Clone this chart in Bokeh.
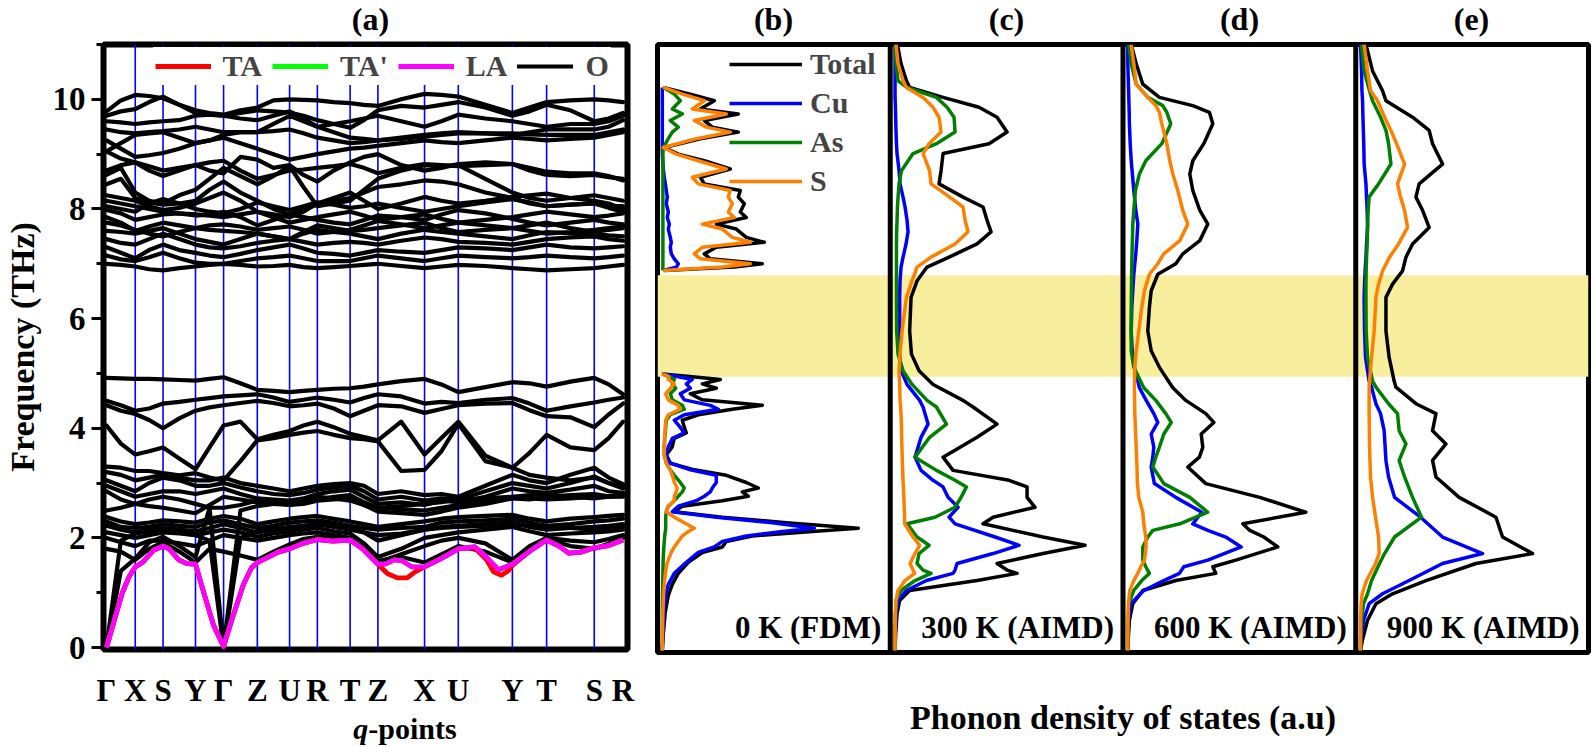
import math
from bokeh.plotting import figure
from bokeh.models import (Range1d, Span, Legend, LegendItem, BoxAnnotation,
                          FixedTicker, SingleIntervalTicker, LinearAxis)
from bokeh.layouts import row, column
from bokeh.embed import file_html
from bokeh.resources import INLINE
from bokeh.core.properties import value

FONT = "Liberation Serif"

# ---------------- panel (a): phonon dispersion ----------------
hs_labels = ["Γ", "X", "S", "Y", "Γ", "Z", "U", "R", "T", "Z", "X", "U", "Y", "T", "S", "R"]
hs_pos = [0.0, 0.29, 0.57, 0.897, 1.18, 1.52, 1.845, 2.125, 2.455, 2.735, 3.205, 3.545, 4.09, 4.435, 4.915, 5.205]

# optical bands sampled at every high-symmetry point and at the middle of each segment
L1 = [4.92,4.91,4.90,4.90,4.89,4.88,4.87,4.90,4.93,4.82,4.70,4.68,4.66,4.68,4.70,4.72,4.73,4.76,4.80,4.86,4.90,4.80,4.66,4.75,4.84,4.82,4.76,4.85,4.92,4.80,4.62]
L2 = [4.50,4.42,4.32,4.36,4.45,4.48,4.52,4.55,4.58,4.60,4.62,4.56,4.48,4.52,4.56,4.52,4.47,4.55,4.62,4.58,4.45,4.48,4.46,4.52,4.55,4.45,4.32,4.40,4.47,4.52,4.56]
L3 = [4.42,4.32,4.26,4.15,4.00,4.18,4.32,4.38,4.42,4.46,4.50,4.46,4.40,4.42,4.45,4.36,4.22,4.32,4.42,4.40,4.28,4.35,4.42,4.45,4.46,4.33,4.22,4.20,4.02,4.25,4.45]
L4 = [4.05,3.72,3.52,3.58,3.65,3.45,3.25,3.65,4.05,4.12,3.80,3.88,3.95,4.05,4.12,4.02,3.90,3.84,3.78,4.12,3.52,3.82,4.12,3.50,3.28,3.55,3.88,3.65,3.60,3.82,4.12]
L5 = [3.30,3.28,3.22,3.22,3.18,3.14,3.18,3.10,3.05,3.40,3.78,3.82,3.88,3.92,3.95,3.88,3.82,3.80,3.76,3.22,3.24,3.58,4.08,3.40,3.28,3.15,3.10,3.05,3.10,3.00,2.95]
L6 = [3.20,3.15,3.05,3.10,3.15,3.10,3.05,3.05,3.10,3.00,2.95,2.90,2.85,2.90,2.95,2.98,3.00,2.95,2.80,2.85,2.78,2.80,2.75,2.95,3.15,3.05,3.00,3.15,3.28,3.10,2.98]
L7 = [3.05,2.95,2.85,3.00,3.10,3.05,2.95,2.95,3.00,2.92,2.85,2.80,2.78,2.82,2.88,2.92,2.95,2.85,2.70,2.75,2.68,2.72,2.70,2.85,3.00,2.95,2.90,3.00,3.12,3.00,2.90]
L8 = [2.95,2.85,2.75,2.80,2.85,2.85,2.80,2.85,2.90,2.80,2.72,2.70,2.68,2.72,2.80,2.85,2.88,2.75,2.62,2.65,2.60,2.68,2.65,2.75,2.90,2.85,2.82,2.88,2.95,2.85,2.82]
L9 = [2.85,2.70,2.62,2.70,2.75,2.70,2.62,2.55,2.55,2.60,2.68,2.65,2.60,2.65,2.70,2.75,2.78,2.65,2.55,2.52,2.50,2.55,2.60,2.68,2.75,2.78,2.80,2.75,2.72,2.75,2.78]
L10 = [2.50,2.55,2.62,2.58,2.55,2.50,2.45,2.60,2.75,2.70,2.65,2.62,2.60,2.62,2.68,2.70,2.72,2.60,2.48,2.45,2.42,2.48,2.55,2.62,2.72,2.70,2.75,2.78,2.80,2.76,2.76]
L11 = [2.38,2.30,2.25,2.28,2.32,2.30,2.28,2.35,2.40,2.35,2.25,2.30,2.35,2.38,2.40,2.35,2.30,2.25,2.20,2.25,2.30,2.35,2.38,2.40,2.42,2.35,2.30,2.35,2.38,2.40,2.42]
L12 = [2.30,2.20,2.18,2.20,2.25,2.22,2.20,2.28,2.32,2.25,2.18,2.22,2.28,2.30,2.32,2.28,2.22,2.18,2.15,2.18,2.20,2.28,2.30,2.32,2.35,2.28,2.22,2.25,2.30,2.32,2.35]
L13 = [2.22,2.15,2.10,2.15,2.18,2.15,2.12,2.18,2.25,2.18,2.10,2.15,2.20,2.22,2.25,2.20,2.15,2.10,2.05,2.08,2.15,2.20,2.22,2.25,2.28,2.20,2.15,2.18,2.20,2.22,2.25]
L14 = [2.10,2.05,2.00,2.05,2.10,2.08,2.05,2.10,2.15,2.10,2.02,2.08,2.12,2.15,2.18,2.12,2.08,1.90,1.65,1.80,2.00,2.05,2.10,2.15,2.20,2.12,2.05,2.08,2.10,2.12,2.15]
L15 = [2.00,1.92,1.85,1.95,1.95,1.90,1.85,1.95,2.05,2.00,1.95,2.00,2.05,2.08,2.10,2.05,2.00,1.80,1.55,1.70,1.85,1.95,2.00,1.90,1.60,1.85,2.00,1.95,1.92,1.98,2.05]
L16 = [1.80,1.75,1.60,1.80,1.92,1.75,1.55,1.80,1.75,1.68,1.60,1.75,1.88,1.98,2.02,2.00,1.98,1.80,1.58,1.65,1.55,1.70,1.85,1.75,1.55,1.80,1.98,1.85,1.80,1.90,2.00]
A1 = [0.00,1.95,2.08,2.12,2.15,2.10,2.05,1.95,0.00,2.00,2.12,2.15,2.18,2.22,2.25,2.22,2.18,2.10,1.95,2.05,2.15,2.18,2.20,2.22,2.25,2.22,2.20,2.18,2.15,2.18,2.20]
A2 = [0.00,1.40,1.62,1.92,2.02,1.85,1.65,2.55,0.00,2.50,2.58,2.62,2.65,2.70,2.75,2.72,2.68,2.60,2.55,2.58,2.62,2.65,2.70,2.72,2.75,2.72,2.70,2.72,2.75,2.75,2.75]
U1 = [9.78,9.98,10.08,10.06,10.02,9.90,9.80,9.75,9.72,9.80,9.85,9.98,10.00,9.99,9.98,9.95,9.93,9.90,9.88,10.00,10.10,10.08,10.05,9.90,9.75,9.85,9.95,9.98,10.00,9.98,9.95]
U2 = [9.70,9.78,9.82,9.95,10.05,9.90,9.75,9.72,9.70,9.75,9.80,9.78,9.76,9.70,9.62,9.55,9.48,9.62,9.80,9.88,9.85,9.90,9.95,9.85,9.70,9.78,9.90,9.80,9.60,9.65,9.75]
U3 = [9.60,9.58,9.55,9.58,9.60,9.62,9.70,9.72,9.70,9.65,9.62,9.70,9.78,9.65,9.50,9.55,9.60,9.65,9.70,9.60,9.50,9.60,9.72,9.65,9.60,9.55,9.50,9.55,9.55,9.60,9.70]
U4 = [9.45,9.40,9.38,9.40,9.42,9.45,9.50,9.45,9.40,9.40,9.40,9.55,9.70,9.60,9.50,9.40,9.30,9.28,9.25,9.30,9.35,9.38,9.40,9.38,9.35,9.40,9.45,9.45,9.45,9.50,9.62]
U5 = [9.05,9.20,9.35,9.38,9.40,9.30,9.20,9.25,9.35,9.40,9.40,9.42,9.45,9.38,9.30,9.25,9.20,9.22,9.25,9.28,9.32,9.35,9.38,9.38,9.38,9.36,9.35,9.35,9.35,9.40,9.45]
U6 = [9.05,8.92,8.85,8.78,8.70,8.75,8.80,8.70,8.65,8.95,8.90,8.75,8.80,8.62,8.50,8.70,8.85,8.95,9.00,8.80,8.70,8.75,8.82,8.85,8.82,8.75,8.68,8.65,8.65,8.60,8.52]
U7 = [8.70,8.80,8.85,8.70,8.60,8.70,8.80,8.85,8.88,8.70,8.55,8.62,8.70,8.72,8.75,8.78,8.82,8.75,8.65,8.75,8.82,8.80,8.78,8.80,8.82,8.70,8.62,8.60,8.62,8.58,8.55]
U8 = [8.62,8.75,8.30,8.15,8.10,8.25,8.35,8.55,8.75,8.60,8.45,8.60,8.78,8.40,8.05,8.10,8.15,8.35,8.55,8.70,8.80,8.78,8.80,8.55,8.30,8.20,8.15,8.20,8.25,8.20,8.15]
U9 = [8.45,8.55,8.20,8.12,8.08,8.10,8.15,8.35,8.50,8.30,8.15,8.00,7.90,8.00,8.08,8.15,8.20,8.30,8.40,8.45,8.52,8.50,8.45,8.30,8.20,8.10,8.05,8.08,8.10,8.05,8.05]
U10 = [8.25,8.20,8.15,8.05,7.98,8.02,8.10,8.20,8.30,8.15,7.95,7.90,7.85,7.95,8.10,8.20,8.30,8.15,8.00,8.10,8.22,8.15,8.10,8.15,8.22,8.25,8.28,8.20,8.15,8.10,8.00]
U11 = [8.15,8.10,8.05,8.00,7.95,7.92,7.90,7.88,7.85,7.90,7.95,7.85,7.75,7.80,7.85,7.90,7.95,7.88,7.80,7.85,7.90,7.82,7.75,7.80,7.85,7.90,7.95,7.90,7.85,7.88,7.92]
U12 = [7.98,7.92,7.80,7.85,7.90,7.92,7.88,7.90,7.95,7.85,7.70,7.80,7.90,7.85,7.80,7.75,7.72,7.80,7.88,7.85,7.80,7.90,7.98,7.92,7.82,7.75,7.70,7.75,7.80,7.75,7.72]
U13 = [7.85,7.75,7.60,7.68,7.75,7.70,7.65,7.62,7.60,7.58,7.55,7.50,7.45,7.58,7.70,7.65,7.60,7.62,7.65,7.70,7.75,7.65,7.58,7.62,7.65,7.70,7.75,7.65,7.58,7.62,7.65]
U14 = [7.60,7.58,7.55,7.60,7.65,7.55,7.45,7.40,7.35,7.45,7.55,7.50,7.45,7.55,7.62,7.58,7.55,7.50,7.45,7.55,7.62,7.58,7.55,7.50,7.45,7.52,7.58,7.56,7.55,7.52,7.50]
U15 = [7.45,7.38,7.35,7.45,7.55,7.45,7.35,7.30,7.28,7.32,7.38,7.42,7.45,7.40,7.35,7.38,7.40,7.38,7.35,7.42,7.48,7.45,7.40,7.38,7.35,7.40,7.45,7.48,7.50,7.45,7.42]
U16 = [7.30,7.20,7.10,7.25,7.35,7.25,7.20,7.15,7.12,7.18,7.25,7.30,7.35,7.28,7.20,7.18,7.15,7.20,7.25,7.22,7.20,7.25,7.30,7.28,7.25,7.30,7.35,7.30,7.28,7.30,7.32]
U17 = [7.15,7.08,7.05,7.12,7.20,7.10,7.02,7.00,7.00,7.05,7.10,7.12,7.15,7.10,7.05,7.05,7.05,7.10,7.15,7.10,7.05,7.10,7.15,7.12,7.10,7.12,7.15,7.12,7.10,7.12,7.15]
U18 = [7.00,6.98,6.95,6.90,6.88,6.92,6.95,6.98,7.00,6.98,6.95,6.96,6.98,6.94,6.92,6.94,6.96,6.98,7.00,6.96,6.92,6.95,6.98,6.96,6.92,6.90,6.88,6.90,6.92,6.95,6.98]
U19 = [8.05,8.00,7.95,8.10,8.18,8.10,8.00,7.95,7.92,8.00,8.12,8.05,7.98,8.05,8.12,8.08,8.02,8.05,8.10,8.02,7.95,8.00,8.05,8.12,8.18,8.12,8.05,8.08,8.10,8.02,7.95]
U20 = [7.75,7.70,7.62,7.55,7.50,7.58,7.65,7.70,7.72,7.68,7.62,7.65,7.68,7.62,7.55,7.58,7.62,7.70,7.78,7.72,7.65,7.70,7.75,7.70,7.65,7.60,7.55,7.58,7.62,7.65,7.68]
U21 = [9.25,9.10,8.95,8.98,9.02,9.10,9.20,9.25,9.30,9.20,9.10,9.00,8.90,8.95,9.00,9.05,9.10,9.12,9.15,9.20,9.25,9.22,9.20,9.25,9.30,9.28,9.25,9.28,9.30,9.35,9.40]

optical_bands = [L1, L2, L3, L4, L5, L6, L7, L8, L9, L10, L11, L12, L13, L14, L15, L16, A1, A2,
                 U1, U2, U3, U4, U5, U6, U7, U8, U9, U10, U11, U12, U13, U14, U15, U16, U17, U18, U19, U20, U21]

# acoustic branches read at their own path positions
la_q = [0, 0.08, 0.16, 0.23, 0.29, 0.36, 0.48, 0.57, 0.63, 0.73, 0.81, 0.897, 0.98, 1.08, 1.18, 1.28, 1.38, 1.46, 1.52, 1.63,
        1.73, 1.845, 1.98, 2.125, 2.28, 2.455, 2.58, 2.735, 2.81, 2.90, 2.98, 3.08, 3.205, 3.38, 3.545, 3.71, 3.83, 3.95, 4.09, 4.26,
        4.435, 4.56, 4.66, 4.78, 4.915, 5.06, 5.205]
la_f = [0, 0.5, 1.0, 1.3, 1.47, 1.55, 1.78, 1.85, 1.8, 1.6, 1.53, 1.52, 1.0, 0.4, 0.02, 0.6, 1.15, 1.45, 1.55, 1.65,
        1.74, 1.8, 1.9, 1.97, 1.94, 1.96, 1.8, 1.52, 1.52, 1.6, 1.58, 1.47, 1.47, 1.63, 1.8, 1.84, 1.65, 1.42, 1.52, 1.75,
        1.96, 1.85, 1.72, 1.74, 1.82, 1.86, 1.96]
ta_q = [0, 0.08, 0.16, 0.23, 0.29, 0.36, 0.48, 0.57, 0.63, 0.73, 0.81, 0.897, 0.98, 1.08, 1.18, 1.28, 1.38, 1.46, 1.52, 1.63,
        1.73, 1.845, 1.98, 2.125, 2.28, 2.455, 2.58, 2.735, 2.83, 2.93, 3.03, 3.11, 3.205, 3.38, 3.545, 3.71, 3.83, 3.90, 3.98, 4.05,
        4.09, 4.26, 4.435, 4.56, 4.66, 4.78, 4.915, 5.06, 5.205]
ta_f = [0, 0.5, 1.0, 1.3, 1.47, 1.55, 1.78, 1.85, 1.8, 1.6, 1.53, 1.52, 1.0, 0.4, 0.02, 0.6, 1.15, 1.45, 1.55, 1.65,
        1.74, 1.8, 1.9, 1.97, 1.94, 1.96, 1.8, 1.52, 1.35, 1.27, 1.27, 1.38, 1.47, 1.63, 1.8, 1.82, 1.6, 1.38, 1.32, 1.4,
        1.5, 1.75, 1.96, 1.85, 1.72, 1.74, 1.82, 1.86, 1.96]
ta2_q = la_q
ta2_f = la_f

# ---------------- panels (b)-(e): phonon DOS ----------------
b_up_f = [10.22, 10.10, 9.98, 9.83, 9.74, 9.62, 9.50, 9.41, 9.29, 9.13, 9.01, 8.89, 8.74, 8.59, 8.47, 8.35, 8.23, 8.11, 7.96, 7.86, 7.74, 7.65, 7.50, 7.41, 7.32, 7.20, 7.11, 7.02, 6.96, 6.90]
b_up_tot = [0.5, 14, 26, 19, 38, 21, 25, 38, 19, 1, 8, 21, 34, 19, 21, 39, 38, 41, 39, 42, 27, 37, 42, 51, 27, 21, 24, 50, 36, 1]
b_up_cu = [0, 0, 0, 0, 0, 0, 0, 0, 0, 0, 0, 0.2, 0.5, 1, 1.5, 2, 2.5, 2, 3, 2.5, 3.5, 3, 4, 4.5, 4, 4.5, 6, 8, 7, 0.5]
b_up_as = [0.5, 6, 9, 5, 10, 4, 8, 5, 3, 0.5, 0.3, 0.3, 0.3, 0.3, 0.3, 0.3, 0.3, 0.3, 0.3, 0.3, 0.3, 0.3, 0.3, 0.3, 0.3, 0.3, 0.3, 0.3, 0.3, 0.2]
b_up_s = [0.5, 10, 21, 15, 32, 16, 22, 34, 17, 0.5, 7, 18, 32, 15, 18, 34, 33, 35, 33, 36, 20, 30, 35, 44, 20, 16, 19, 44, 30, 0.5]

b_lo_f = [5.02, 4.97, 4.92, 4.84, 4.76, 4.66, 4.55, 4.45, 4.38, 4.28, 4.18, 4.05, 3.95, 3.85, 3.70, 3.55, 3.40, 3.28, 3.18, 3.05, 2.95, 2.88, 2.80, 2.72, 2.62, 2.52, 2.42, 2.32, 2.22, 2.16, 2.08, 1.98, 1.88, 1.78, 1.60, 1.40, 1.20, 1.00, 0.70, 0.30, 0.00]
b_lo_tot = [0, 15, 29, 20, 27, 14, 20, 50, 35, 18, 10, 11, 12, 6, 5, 2, 4, 16, 32, 42, 48, 40, 43, 30, 10, 6, 30, 62, 98, 75, 45, 32, 30, 20, 13, 8, 5, 3, 1.5, 0.5, 0]
b_lo_cu = [0, 8, 15, 12, 14, 9, 11, 24, 28, 11, 6, 9, 11, 5, 3, 2, 4, 14, 27, 27, 25, 24, 21, 17, 8, 5, 27, 55, 76, 60, 42, 30, 26, 18, 12, 6, 3, 1.7, 0.8, 0.3, 0]
b_lo_as = [0, 3, 6, 5, 6.7, 4, 5, 10, 11, 4, 2, 1.7, 1.5, 1.2, 1, 1, 2, 4, 6, 9, 11, 10, 8, 6, 3, 2, 1.7, 1.7, 1.7, 1.5, 1.2, 1, 0.8, 0.6, 0.4, 0.3, 0.2, 0.1, 0, 0, 0]
b_lo_s = [0, 3.3, 3, 6, 4, 1.7, 3, 8, 9, 3, 1.7, 1.5, 1.3, 1.2, 1, 1, 2, 4, 5, 6, 7.5, 7, 6, 6, 3, 2, 6, 11, 16, 13, 10, 8, 6, 4.5, 2.5, 1.5, 1, 0.6, 0.3, 0.1, 0]

c_f = [11.0, 10.65, 10.34, 10.22, 10.04, 9.86, 9.68, 9.41, 9.20, 9.02, 8.71, 8.47, 8.23, 8.05, 7.81, 7.60, 7.38, 7.14, 6.96, 6.71, 6.41, 5.80, 5.38, 5.08, 4.83, 4.54, 4.42, 4.11, 3.87, 3.51, 3.27, 3.09, 2.97, 2.78, 2.60, 2.42, 2.30, 2.06, 1.91, 1.76, 1.58, 1.46, 1.40, 1.27, 1.09, 0.91, 0.67, 0.30, 0.0]
c_tot = [1.2, 3, 5.7, 7.3, 24, 42, 51, 56, 47, 24, 23, 22, 34, 44, 46, 48, 41, 27, 16, 11, 8, 7.3, 8.2, 12, 19, 34, 39, 51, 41, 24, 29, 57, 66, 66, 70, 49, 44, 74, 95, 74, 51, 56, 61, 41, 7.3, 2.3, 1, 0.3, 0]
c_cu = [0, 0, 0, 0, 0, 0.2, 0.3, 0.5, 0.7, 1, 2, 2.5, 4, 5, 6, 6.5, 5.5, 4, 3, 2.5, 2.3, 2.3, 2.3, 3, 6, 12.3, 14, 16.5, 13, 10, 13, 19, 24, 26.5, 31.5, 27, 30, 50, 62, 49, 31, 30, 29, 15.7, 5.7, 1.5, 0.5, 0.1, 0]
c_as = [0, 0.5, 1.5, 6, 20.7, 26, 29.5, 30, 20.7, 9, 3.2, 2, 1.5, 1.2, 1, 0.8, 0.7, 0.7, 0.7, 0.7, 0.7, 0.8, 1.5, 4, 8.5, 16, 20.7, 25.7, 17.3, 10, 20.7, 30, 35.7, 33, 30, 20, 6, 11, 17, 12, 11, 14, 18, 10, 3, 0.5, 0.2, 0, 0]
c_s = [0.5, 1.5, 4, 5.7, 14, 19, 22, 23, 17, 14, 17.3, 18, 27.3, 34, 35, 36.5, 30, 18, 11, 8.5, 5.7, 3.5, 2.5, 2, 2.3, 2.5, 2.8, 3.2, 3.3, 3.6, 3.8, 4, 4.2, 4.4, 4.6, 4.8, 4.8, 9, 12.3, 10, 7.5, 9, 9.8, 5, 1.5, 0.5, 0.2, 0, 0]

d_f = [11.0, 10.65, 10.28, 10.04, 9.89, 9.77, 9.56, 9.20, 8.89, 8.65, 8.35, 7.99, 7.74, 7.44, 7.20, 7.02, 6.83, 6.53, 6.23, 5.80, 5.44, 5.14, 4.77, 4.54, 4.30, 4.14, 3.93, 3.69, 3.51, 3.33, 3.03, 2.78, 2.51, 2.30, 2.18, 2.06, 1.88, 1.64, 1.52, 1.40, 1.27, 1.09, 0.85, 0.55, 0.20, 0.0]
d_tot = [1.7, 4.2, 7.5, 15.8, 32.5, 40.8, 42.5, 38, 32.5, 31, 32.5, 36, 40, 36, 27.5, 24, 15, 11.7, 10.8, 10, 11.7, 15.8, 22.5, 29, 39, 43, 36.7, 37.5, 35.8, 30, 39, 66, 89, 57.5, 61, 68, 75, 54, 42.5, 44, 24, 7.5, 2.5, 0.8, 0.2, 0]
d_cu = [0, 0, 0.3, 0.5, 0.6, 0.7, 0.8, 1.2, 1.7, 2.3, 3, 4, 5, 4.5, 4, 3.5, 3, 2.5, 2, 1.7, 2.2, 3.3, 5.8, 9.2, 13, 15, 11.7, 13, 12.5, 11.7, 13.3, 24, 37, 32.5, 40, 49, 56.7, 40, 28, 25.8, 18, 8, 1.5, 0.5, 0.1, 0]
d_as = [0.5, 1.7, 4.2, 10, 17.5, 19.5, 21.5, 17, 9, 5.8, 3.8, 3, 2.5, 2.3, 2.1, 2, 1.9, 1.8, 1.7, 1.7, 1.7, 3, 8, 14, 19, 21.7, 18, 15.8, 14, 12.5, 18, 31, 40, 26, 12.5, 10, 7.5, 7.5, 9, 10.8, 7, 3, 0.5, 0.2, 0, 0]
d_s = [1.7, 3, 4.2, 10, 14, 15.8, 17, 19.5, 21, 22.5, 25, 27.5, 30, 26, 18, 15, 10.8, 8.3, 7, 5.5, 4.2, 3.5, 3.3, 3.4, 3.5, 3.7, 3.9, 4.2, 4.4, 4.6, 4.8, 5.5, 7.5, 8, 8.5, 9, 9.2, 8.3, 6.5, 5, 3, 1, 0.3, 0.1, 0, 0]

e_f = [11.0, 10.52, 10.16, 9.98, 9.68, 9.44, 9.20, 8.83, 8.47, 8.23, 7.99, 7.68, 7.38, 7.14, 6.89, 6.65, 6.41, 5.80, 5.32, 4.89, 4.78, 4.48, 4.30, 3.99, 3.75, 3.45, 3.15, 2.78, 2.42, 2.06, 1.76, 1.58, 1.27, 1.03, 0.85, 0.55, 0.20, 0.0]
e_tot = [2.7, 6, 11, 12.7, 26, 34.3, 36, 41, 29.3, 27.7, 31, 34.3, 26, 22.7, 21, 16, 12.7, 12.7, 14.3, 16.8, 17.7, 27.7, 37.7, 36, 42.7, 36, 37.7, 49.3, 67.7, 71, 86, 57.7, 32.7, 16, 7.7, 3.5, 1, 0]
e_cu = [0, 0.5, 0.7, 1, 1.2, 1.4, 1.6, 1.8, 2.7, 3, 3.3, 3.5, 3, 2.7, 2.3, 2, 1.8, 2, 2.5, 4.3, 5.5, 7.7, 10, 11.8, 12.2, 12.7, 14, 17, 30, 41, 61, 41, 24.3, 11, 4.3, 1.5, 0.3, 0]
e_as = [0.5, 1.8, 4.5, 6, 10, 12.7, 14, 15.2, 9, 4.3, 3.8, 3.5, 3.3, 3, 2.8, 2.7, 2.7, 2.8, 3.5, 6, 7.7, 14, 18.5, 19.3, 22.7, 19.3, 22, 26, 30.5, 17, 12, 9.5, 5.5, 3.5, 1.5, 0.5, 0, 0]
e_s = [1.8, 3.5, 5, 8.5, 12, 15.2, 18, 22, 18.5, 20, 22, 23.5, 19, 14.5, 11, 9, 7.7, 6.8, 5.5, 4.5, 4.3, 4.3, 4.3, 4.4, 4.5, 4.7, 5, 6, 7.5, 9, 9.3, 7.5, 3, 0.8, 0.3, 0, 0, 0]

panel_titles = ["(a)", "(b)", "(c)", "(d)", "(e)"]
panel_tags = ["0 K (FDM)", "300 K (AIMD)", "600 K (AIMD)", "900 K (AIMD)"]
element_names = ["Total", "Cu", "As", "S"]
element_colors = ["black", "#0000ff", "#008000", "#ff8000"]
gap_band = (4.97, 6.81)


def txt(size="30px", style="bold"):
    return dict(text_font=value(FONT), text_font_size=size, text_font_style=style,
                text_color="black", text_baseline="middle")


def strip(width, height):
    s = figure(width=width, height=height, output_backend="svg", toolbar_location=None, title=None,
               x_range=Range1d(0, width), y_range=Range1d(0, height),
               x_axis_type=None, y_axis_type=None, min_border=0)
    s.outline_line_color = None
    s.background_fill_color = "white"
    s.border_fill_color = "white"
    return s


# ---------------- panel titles strip ----------------
top = strip(1592, 41)
top.text(x=[370, 773, 1006, 1239, 1471], y=[23] * 5, text=panel_titles, text_align="center",
         **txt("32px"))

# ---------------- panel (a) ----------------
q_grid = []
for i in range(len(hs_pos) - 1):
    q_grid += [hs_pos[i], (hs_pos[i] + hs_pos[i + 1]) / 2]
q_grid.append(hs_pos[-1])
for b in optical_bands:
    assert len(b) == len(q_grid), len(b)

pa = figure(width=653, height=669, output_backend="svg", toolbar_location=None, title=None,
            x_range=Range1d(-0.03, 5.25), y_range=Range1d(-0.036, 11.0),
            min_border_left=99, min_border_right=26, min_border_top=3, min_border_bottom=58)
pa.grid.visible = False
pa.outline_line_color = "black"
pa.outline_line_width = 6
pa.background_fill_color = "white"
pa.border_fill_color = "white"

for xq in hs_pos[1:-1]:
    pa.add_layout(Span(location=xq, dimension="height", line_color="#0000ff", line_width=1.6, level="underlay"))

r_o = pa.multi_line(xs=[q_grid] * len(optical_bands), ys=optical_bands, line_color="black",
                    line_width=4.2, line_join="round", line_cap="round")
r_ta2 = pa.line(ta2_q, ta2_f, line_color="#00ff00", line_width=4.8, line_join="round")
r_ta = pa.line(ta_q, ta_f, line_color="#ff0000", line_width=4.8, line_join="round")
r_la = pa.line(la_q, la_f, line_color="#ff00ff", line_width=4.8, line_join="round")

ya = pa.yaxis[0]
ya.ticker = SingleIntervalTicker(interval=2, num_minor_ticks=2)
ya.axis_line_color = None
ya.major_tick_out = 12
ya.major_tick_in = 0
ya.minor_tick_out = 7
ya.minor_tick_in = 0
ya.major_tick_line_width = 3
ya.minor_tick_line_width = 3
ya.major_label_standoff = 6
ya.major_label_text_font = FONT
ya.major_label_text_font_size = "33px"
ya.major_label_text_font_style = "bold"
ya.major_label_text_color = "black"
ya.axis_label = "Frequency (THz)"
ya.axis_label_standoff = 9
ya.axis_label_text_font = FONT
ya.axis_label_text_font_size = "34px"
ya.axis_label_text_font_style = "bold"
ya.axis_label_text_color = "black"

xa = pa.xaxis[0]
xa.ticker = FixedTicker(ticks=hs_pos)
xa.major_label_overrides = {p: l for p, l in zip(hs_pos, hs_labels)}
xa.axis_line_color = None
xa.major_tick_out = 0
xa.major_tick_in = 0
xa.minor_tick_line_color = None
xa.major_label_standoff = 23
xa.major_label_text_font = FONT
xa.major_label_text_font_size = "31px"
xa.major_label_text_font_style = "bold"
xa.major_label_text_color = "black"

leg_a = Legend(items=[LegendItem(label="TA", renderers=[r_ta]),
                      LegendItem(label="TA'", renderers=[r_ta2]),
                      LegendItem(label="LA", renderers=[r_la]),
                      LegendItem(label="O", renderers=[r_o])],
               orientation="horizontal", location=(49.5, 564), glyph_width=56, glyph_height=30,
               label_height=30, label_standoff=12, spacing=10, padding=2,
               label_text_font=FONT, label_text_font_size="30px", label_text_font_style="bold",
               border_line_alpha=0, background_fill_color="white", background_fill_alpha=1)
pa.add_layout(leg_a)

# q-points label strip under panel (a)
qs = strip(653, 37)
qs.text(x=[330], y=[19], text=["q"], text_align="right", **txt("30px", "bold italic"))
qs.text(x=[330], y=[19], text=["-points"], text_align="left", **txt("30px"))

# ---------------- panels (b)-(e) ----------------
FW = 465.5
W = FW / 4
BASE = 2.4
pdos = figure(width=939, height=706, output_backend="svg", toolbar_location=None, title=None,
              x_range=Range1d(0, FW), y_range=Range1d(-0.036, 11.0),
              x_axis_type=None, y_axis_type=None,
              min_border_left=4, min_border_right=4, min_border_top=3, min_border_bottom=95)
pdos.outline_line_color = "black"
pdos.outline_line_width = 5
pdos.background_fill_color = "white"
pdos.border_fill_color = "white"
pdos.add_layout(BoxAnnotation(bottom=gap_band[0], top=gap_band[1], fill_color="#f8ef9e",
                              fill_alpha=1, line_alpha=0, level="underlay"))

panels = [
    [(b_up_f, [b_up_tot, b_up_cu, b_up_as, b_up_s]), (b_lo_f, [b_lo_tot, b_lo_cu, b_lo_as, b_lo_s])],
    [(c_f, [c_tot, c_cu, c_as, c_s])],
    [(d_f, [d_tot, d_cu, d_as, d_s])],
    [(e_f, [e_tot, e_cu, e_as, e_s])],
]
legend_renderers = None
for k, segs in enumerate(panels):
    x0 = k * W + BASE
    for si, (fr, series) in enumerate(segs):
        rs = []
        for vals, col in zip(series, element_colors):
            assert len(vals) == len(fr)
            rs.append(pdos.line([x0 + v for v in vals], fr, line_color=col, line_width=3.5,
                                line_join="round"))
        if k == 0 and si == 0:
            legend_renderers = rs

pdos.text(x=[(k + 1) * W - 4.5 for k in range(4)], y=[0.42] * 4, text=panel_tags,
          text_align="right", **txt("31px"))

for k in range(1, 4):
    pdos.add_layout(Span(location=k * W, dimension="height", line_color="black", line_width=5))

leg_b = Legend(items=[LegendItem(label=n, renderers=[r]) for n, r in zip(element_names, legend_renderers)],
               location=(68, 450), glyph_width=73, glyph_height=30, label_height=30,
               label_standoff=8, spacing=5, padding=4,
               label_text_font=FONT, label_text_font_size="30px", label_text_font_style="bold",
               border_line_alpha=0, background_fill_alpha=0)
pdos.add_layout(leg_b)

xb = LinearAxis(ticker=FixedTicker(ticks=[]))
xb.axis_line_color = None
xb.major_tick_out = 0
xb.major_tick_in = 0
xb.minor_tick_line_color = None
xb.major_label_standoff = 0
xb.axis_label = "Phonon density of states (a.u)"
xb.axis_label_standoff = 46
xb.axis_label_text_font = FONT
xb.axis_label_text_font_size = "34px"
xb.axis_label_text_font_style = "bold"
xb.axis_label_text_color = "black"
pdos.add_layout(xb, "below")

layout = column(top, row(column(pa, qs), pdos))
open("out.html", "w").write(file_html(layout, INLINE))
